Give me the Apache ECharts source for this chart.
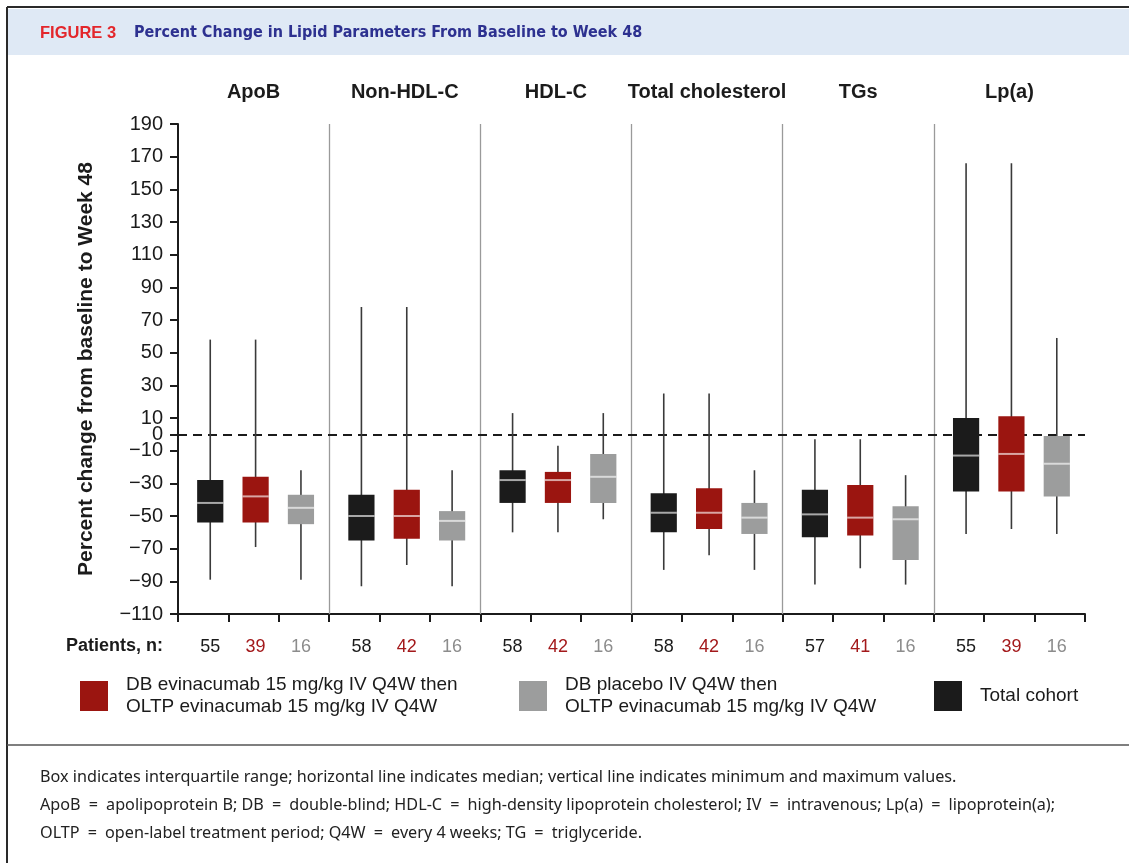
<!DOCTYPE html>
<html>
<head>
<meta charset="utf-8">
<title>Percent Change in Lipid Parameters From Baseline to Week 48</title>
<script src="https://cdn.jsdelivr.net/npm/echarts@6/dist/echarts.min.js"></script>
<style>
  html, body { margin: 0; padding: 0; background: #ffffff; }
  #chart { width: 1129px; height: 863px; }
</style>
</head>
<body>
<div id="chart"></div>
<script>
// Lipid parameters shown as groups along the x axis
const groups = ['ApoB', 'Non-HDL-C', 'HDL-C', 'Total cholesterol', 'TGs', 'Lp(a)'];

// Arm names (legend text)
const armRed = 'DB evinacumab 15 mg/kg IV Q4W then\nOLTP evinacumab 15 mg/kg IV Q4W';
const armGray = 'DB placebo IV Q4W then\nOLTP evinacumab 15 mg/kg IV Q4W';
const armTotal = 'Total cohort';

// Percent change per group: [min, Q1, median, Q3, max]
const totalStats = [
  [-89, -54, -42, -28, 58],
  [-93, -65, -50, -37, 78],
  [-60, -42, -28, -22, 13],
  [-83, -60, -48, -36, 25],
  [-92, -63, -49, -34, -3],
  [-61, -35, -13, 10, 166]
];
const redStats = [
  [-69, -54, -38, -26, 58],
  [-80, -64, -50, -34, 78],
  [-60, -42, -28, -23, -7],
  [-74, -58, -48, -33, 25],
  [-82, -62, -51, -31, -3],
  [-58, -35, -12, 11, 166]
];
const grayStats = [
  [-89, -55, -45, -37, -22],
  [-93, -65, -53, -47, -22],
  [-52, -42, -26, -12, 13],
  [-83, -61, -51, -42, -22],
  [-92, -77, -52, -44, -25],
  [-61, -38, -18, -1, 59]
];

// Patients, n per group
const totalN = [55, 58, 58, 58, 57, 55];
const redN = [39, 42, 42, 42, 41, 39];
const grayN = [16, 16, 16, 16, 16, 16];

// Y axis tick values
const yTicks = [190, 170, 150, 130, 110, 90, 70, 50, 30, 10, 0, -10, -30, -50, -70, -90, -110];

// Footnote lines
const notes = [
  'Box indicates interquartile range; horizontal line indicates median; vertical line indicates minimum and maximum values.',
  'ApoB = apolipoprotein B; DB = double-blind; HDL-C = high-density lipoprotein cholesterol; IV = intravenous; Lp(a) = lipoprotein(a);',
  'OLTP = open-label treatment period; Q4W = every 4 weeks; TG = triglyceride.'
];

// Each group spans 3 x-units; the three boxes sit at these offsets inside it
const ARM_OFFSET = [0.64, 1.54, 2.44];
const BOX_HALF = 0.26;

const COLORS = { total: '#1b1b1b', red: '#9b1510', gray: '#9c9d9d' };
const N_COLORS = { total: '#1b1b1b', red: '#a3191b', gray: '#8c8c8c' };
const FONT = '"Liberation Sans", Arial, sans-serif';

function boxData(stats, armIndex) {
  return stats.map((s, g) => [g * 3 + ARM_OFFSET[armIndex]].concat(s));
}

function renderBox(params, api) {
  const x = api.value(0);
  const pMin = api.coord([x, api.value(1)]);
  const pQ1 = api.coord([x, api.value(2)]);
  const pMed = api.coord([x, api.value(3)]);
  const pQ3 = api.coord([x, api.value(4)]);
  const pMax = api.coord([x, api.value(5)]);
  const left = api.coord([x - BOX_HALF, 0])[0];
  const right = api.coord([x + BOX_HALF, 0])[0];
  const color = api.visual('color');
  return {
    type: 'group',
    children: [
      {
        type: 'line',
        shape: { x1: pMin[0], y1: pMin[1], x2: pMax[0], y2: pMax[1] },
        style: { stroke: '#3a3a3a', lineWidth: 1.6 }
      },
      {
        type: 'rect',
        shape: { x: left, y: pQ3[1], width: right - left, height: pQ1[1] - pQ3[1] },
        style: { fill: color }
      },
      {
        type: 'line',
        shape: { x1: left, y1: pMed[1], x2: right, y2: pMed[1] },
        style: { stroke: 'rgba(255,255,255,0.62)', lineWidth: 2 }
      }
    ]
  };
}

const labelPositions = [];
for (let g = 0; g < groups.length; g++) {
  for (let k = 0; k < 3; k++) labelPositions.push(g * 3 + ARM_OFFSET[k]);
}
const nByArm = [totalN, redN, grayN];
const nStyleKey = ['t', 'r', 'g'];

const chart = echarts.init(document.getElementById('chart'), null, { renderer: 'canvas' });

const legendText = { fontSize: 19, lineHeight: 22, color: '#1b1b1b', fontFamily: FONT, padding: [0, 0, 0, 13] };

const option = {
  animation: false,
  backgroundColor: '#ffffff',
  textStyle: { fontFamily: FONT },
  grid: { left: 178, right: 44, top: 124, bottom: 249, containLabel: false },
  xAxis: [
    {
      type: 'value',
      min: 0,
      max: 18,
      interval: 1,
      axisLine: { show: true, onZero: false, lineStyle: { color: '#1b1b1b', width: 2 } },
      axisTick: {
        show: true, length: 8, inside: false,
        customValues: Array.from({ length: 19 }, (_, i) => i),
        lineStyle: { color: '#1b1b1b', width: 2 }
      },
      splitLine: { show: false },
      axisLabel: {
        show: true,
        margin: 24,
        customValues: labelPositions,
        formatter: function (value) {
          const g = Math.floor(value / 3);
          const k = Math.round((value - g * 3 - ARM_OFFSET[0]) / 0.9);
          return '{' + nStyleKey[k] + '|' + nByArm[k][g] + '}';
        },
        rich: {
          t: { color: N_COLORS.total, fontSize: 18, fontFamily: FONT },
          r: { color: N_COLORS.red, fontSize: 18, fontFamily: FONT },
          g: { color: N_COLORS.gray, fontSize: 18, fontFamily: FONT }
        }
      }
    },
    {
      type: 'category',
      position: 'top',
      data: groups,
      axisLine: { show: false },
      axisTick: { show: false },
      splitLine: { show: false },
      axisLabel: {
        interval: 0,
        hideOverlap: false,
        margin: 22,
        color: '#1b1b1b',
        fontSize: 20,
        fontWeight: 'bold',
        fontFamily: FONT
      }
    }
  ],
  yAxis: {
    type: 'value',
    min: -110,
    max: 190,
    name: 'Percent change from baseline to Week 48',
    nameLocation: 'middle',
    nameGap: 81,
    nameRotate: 90,
    nameTextStyle: { color: '#1b1b1b', fontSize: 21, fontWeight: 'bold', fontFamily: FONT },
    axisLine: { show: true, onZero: false, lineStyle: { color: '#1b1b1b', width: 2 } },
    axisTick: { show: true, length: 8, customValues: yTicks, lineStyle: { color: '#1b1b1b', width: 2 } },
    splitLine: { show: false },
    axisLabel: {
      margin: 15,
      customValues: yTicks,
      color: '#1b1b1b',
      fontSize: 20,
      fontFamily: FONT,
      formatter: v => String(v).replace('-', '\u2212')
    }
  },
  legend: [
    {
      left: 80, top: 674, padding: 0, itemWidth: 28, itemHeight: 30,
      data: [{ name: armRed, icon: 'rect' }],
      textStyle: legendText
    },
    {
      left: 519, top: 674, padding: 0, itemWidth: 28, itemHeight: 30,
      data: [{ name: armGray, icon: 'rect' }],
      textStyle: legendText
    },
    {
      left: 934, top: 681, padding: 0, itemWidth: 28, itemHeight: 30,
      data: [{ name: armTotal, icon: 'rect' }],
      textStyle: legendText
    }
  ],
  series: [
    {
      name: armTotal,
      type: 'custom',
      renderItem: renderBox,
      itemStyle: { color: COLORS.total },
      encode: { x: 0, y: [1, 2, 3, 4, 5] },
      data: boxData(totalStats, 0),
      z: 3,
      markLine: {
        silent: true,
        symbol: ['none', 'none'],
        label: { show: false },
        z: 1,
        data: [3, 6, 9, 12, 15].map(v => ({ xAxis: v, lineStyle: { color: '#9a9a9a', width: 1.3, type: 'solid' } }))
          .concat([{ yAxis: 0, lineStyle: { color: '#1b1b1b', width: 2, type: [9, 6] } }])
      }
    },
    {
      name: armRed,
      type: 'custom',
      renderItem: renderBox,
      itemStyle: { color: COLORS.red },
      encode: { x: 0, y: [1, 2, 3, 4, 5] },
      data: boxData(redStats, 1),
      z: 3
    },
    {
      name: armGray,
      type: 'custom',
      renderItem: renderBox,
      itemStyle: { color: COLORS.gray },
      encode: { x: 0, y: [1, 2, 3, 4, 5] },
      data: boxData(grayStats, 2),
      z: 3
    }
  ],
  graphic: [
    // figure frame
    { type: 'line', shape: { x1: 7, y1: 7, x2: 1129, y2: 7 }, style: { stroke: '#2a2a2a', lineWidth: 2 } },
    { type: 'line', shape: { x1: 7, y1: 7, x2: 7, y2: 863 }, style: { stroke: '#2a2a2a', lineWidth: 2 } },
    // header band
    { type: 'rect', shape: { x: 8, y: 9, width: 1121, height: 46 }, style: { fill: '#dfe9f5' }, z: -1 },
    {
      type: 'text', x: 40, y: 33,
      style: { text: 'FIGURE 3', fill: '#e3262b', font: 'bold 16.5px "Liberation Sans", Arial, sans-serif',
        verticalAlign: 'middle' }
    },
    {
      type: 'text', x: 134, y: 33,
      style: { text: 'Percent Change in Lipid Parameters From Baseline to Week 48', fill: '#2d3190',
        font: 'bold 16px "Liberation Sans Narrow", "DejaVu Sans Condensed", "Liberation Sans", sans-serif',
        verticalAlign: 'middle' }
    },
    // patients row heading
    {
      type: 'text', x: 163, y: 646,
      style: { text: 'Patients, n:', fill: '#1b1b1b', font: 'bold 18px "Liberation Sans", Arial, sans-serif',
        align: 'right', verticalAlign: 'middle' }
    },
    // footer separator
    { type: 'line', shape: { x1: 7, y1: 745, x2: 1129, y2: 745 }, style: { stroke: '#555555', lineWidth: 1.5 } }
  ].concat(notes.map((t, i) => ({
    type: 'text', x: 40, y: 777 + i * 28,
    style: { text: t.split(' = ').join('\u2002=\u2002'), fill: '#222222', font: '16.2px "Noto Sans", sans-serif', verticalAlign: 'middle' }
  })))
};

chart.setOption(option);
</script>
</body>
</html>
